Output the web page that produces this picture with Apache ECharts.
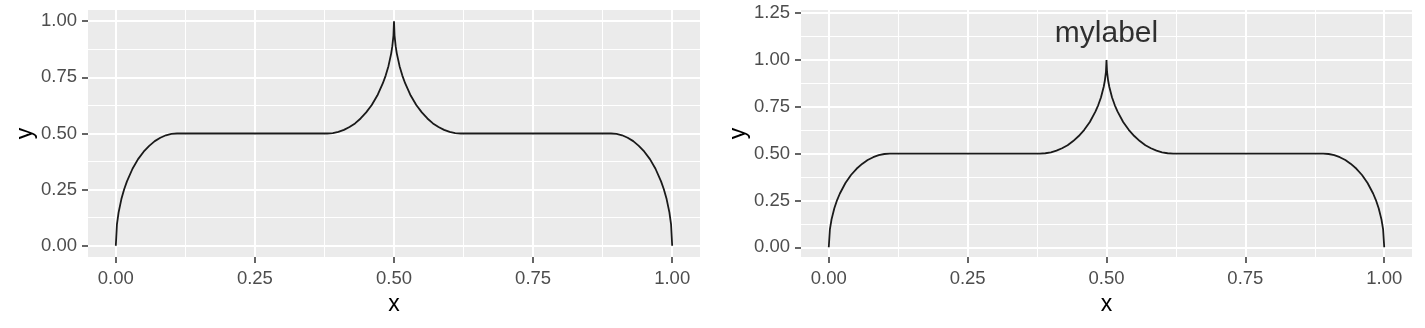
<!DOCTYPE html>
<html>
<head>
<meta charset="utf-8">
<script src="https://cdn.jsdelivr.net/npm/echarts@6/dist/echarts.min.js"></script>
<style>
html,body{margin:0;padding:0;background:#fff;}
#c{width:1425px;height:328px;}
</style>
</head>
<body>
<div id="c"></div>
<script>
// ---- data ----
const curveX = [0, 0.002, 0.005, 0.01, 0.015, 0.02, 0.03, 0.04, 0.05, 0.06, 0.07, 0.08, 0.09, 0.1, 0.11,
  0.38, 0.39, 0.40, 0.41, 0.42, 0.43, 0.44, 0.45, 0.46, 0.47, 0.48, 0.485, 0.49, 0.495, 0.497, 0.499, 0.5,
  0.501, 0.503, 0.505, 0.51, 0.515, 0.52, 0.53, 0.54, 0.55, 0.56, 0.57, 0.58, 0.59, 0.60, 0.61, 0.62,
  0.89, 0.90, 0.91, 0.92, 0.93, 0.94, 0.95, 0.96, 0.97, 0.98, 0.985, 0.99, 0.995, 0.998, 1.0];
const curveY = [0, 0.095, 0.149, 0.208, 0.252, 0.287, 0.343, 0.386, 0.419, 0.445, 0.466, 0.481, 0.492, 0.498, 0.5,
  0.5, 0.502, 0.507, 0.516, 0.529, 0.545, 0.567, 0.594, 0.627, 0.669, 0.724, 0.758, 0.800, 0.857, 0.889, 0.936, 1.0,
  0.936, 0.889, 0.857, 0.800, 0.758, 0.724, 0.669, 0.627, 0.594, 0.567, 0.545, 0.529, 0.516, 0.507, 0.502, 0.5,
  0.5, 0.498, 0.492, 0.481, 0.466, 0.445, 0.419, 0.386, 0.343, 0.287, 0.252, 0.208, 0.149, 0.095, 0];

const xTicks = [0, 0.25, 0.5, 0.75, 1];
const xMinor = [0.125, 0.375, 0.625, 0.875];
const yTicksLeft = [0, 0.25, 0.5, 0.75, 1];
const yMinorLeft = [0.125, 0.375, 0.625, 0.875];
const yTicksRight = [0, 0.25, 0.5, 0.75, 1, 1.25];
const yMinorRight = [0.125, 0.375, 0.625, 0.875, 1.125];
const labelText = 'mylabel';
const labelX = 0.5;
const labelY = 1.14;

// ---- chart ----
const FONT = '"Liberation Sans", Arial, sans-serif';
const fmt = v => Number(v).toFixed(2);
const curve = curveX.map((x, i) => [x, curveY[i]]);

function mainX(grid) {
  return {
    type: 'value', gridIndex: grid, min: -0.05, max: 1.05, position: 'bottom',
    name: 'x', nameLocation: 'middle', nameGap: 34,
    nameTextStyle: {color: '#000', fontSize: 23, fontFamily: FONT},
    axisLine: {show: false, onZero: false},
    axisTick: {show: true, inside: false, length: 6, customValues: xTicks, lineStyle: {color: '#333333', width: 1.5}},
    axisLabel: {show: true, inside: false, customValues: xTicks, formatter: fmt, margin: 12, color: '#4D4D4D', fontSize: 18.5, fontFamily: FONT},
    splitLine: {show: true, lineStyle: {color: '#FFFFFF', width: 2}},
    minorTick: {show: false}, minorSplitLine: {show: false}
  };
}
function minorX(grid) {
  return {
    type: 'value', gridIndex: grid, min: -0.05, max: 1.05, position: 'top',
    axisLine: {show: false, onZero: false},
    axisTick: {show: false, customValues: xMinor},
    axisLabel: {show: false},
    splitLine: {show: true, lineStyle: {color: '#FFFFFF', width: 1}}
  };
}
function mainY(grid, min, max, ticks, gap) {
  return {
    type: 'value', gridIndex: grid, min: min, max: max, position: 'left',
    name: 'y', nameLocation: 'middle', nameGap: gap, nameRotate: 90,
    nameTextStyle: {color: '#000', fontSize: 23, fontFamily: FONT},
    axisLine: {show: false, onZero: false},
    axisTick: {show: true, inside: false, length: 6, customValues: ticks, lineStyle: {color: '#333333', width: 1.5}},
    axisLabel: {show: true, inside: false, customValues: ticks, formatter: fmt, margin: 11, color: '#4D4D4D', fontSize: 18.5, fontFamily: FONT},
    splitLine: {show: true, lineStyle: {color: '#FFFFFF', width: 2}},
    minorTick: {show: false}, minorSplitLine: {show: false}
  };
}
function minorY(grid, min, max, ticks) {
  return {
    type: 'value', gridIndex: grid, min: min, max: max, position: 'right',
    axisLine: {show: false, onZero: false},
    axisTick: {show: false, customValues: ticks},
    axisLabel: {show: false},
    splitLine: {show: true, lineStyle: {color: '#FFFFFF', width: 1}}
  };
}

const chart = echarts.init(document.getElementById('c'), null, {renderer: 'canvas'});
chart.setOption({
  animation: false,
  backgroundColor: '#FFFFFF',
  textStyle: {fontFamily: FONT},
  grid: [
    {left: 88, top: 10, width: 612, height: 247, show: true, backgroundColor: '#EBEBEB', borderWidth: 0, containLabel: false, outerBoundsMode: 'none'},
    {left: 801, top: 10, width: 611, height: 247, show: true, backgroundColor: '#EBEBEB', borderWidth: 0, containLabel: false, outerBoundsMode: 'none'}
  ],
  xAxis: [mainX(0), minorX(0), mainX(1), minorX(1)],
  yAxis: [
    mainY(0, -0.05, 1.05, yTicksLeft, 50), minorY(0, -0.05, 1.05, yMinorLeft),
    mainY(1, -0.052, 1.267, yTicksRight, 50), minorY(1, -0.052, 1.267, yMinorRight)
  ],
  series: [
    {type: 'line', xAxisIndex: 0, yAxisIndex: 0, data: curve, showSymbol: false, symbol: 'none',
     lineStyle: {color: '#1A1A1A', width: 1.8}, z: 5},
    {type: 'line', xAxisIndex: 2, yAxisIndex: 2, data: curve, showSymbol: false, symbol: 'none',
     lineStyle: {color: '#1A1A1A', width: 1.8}, z: 5},
    {type: 'scatter', xAxisIndex: 2, yAxisIndex: 2, data: [[labelX, labelY]], symbolSize: 0, silent: true,
     label: {show: true, position: 'inside', formatter: labelText, color: '#000', fontSize: 30, fontFamily: FONT}}
  ]
});
</script>
</body>
</html>
